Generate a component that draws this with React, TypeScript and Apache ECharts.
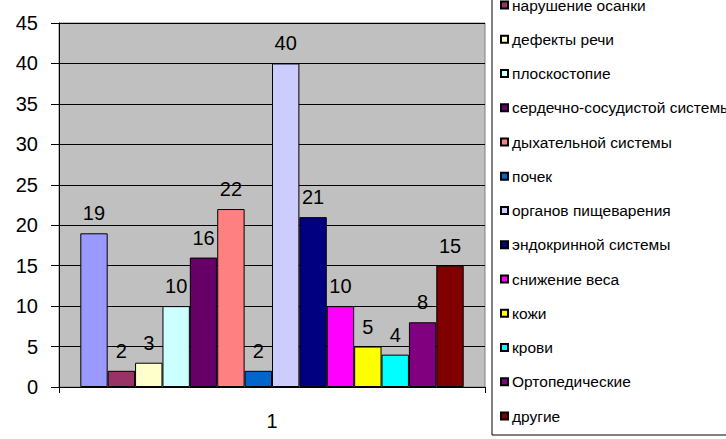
import React, { useEffect, useRef } from "react";
import * as echarts from "echarts";

const categories = ["1"];
const seriesNames = [
  "нарушение зрения",
  "нарушение осанки",
  "дефекты речи",
  "плоскостопие",
  "сердечно-сосудистой системы",
  "дыхательной системы",
  "почек",
  "органов пищеварения",
  "эндокринной системы",
  "снижение веса",
  "кожи",
  "крови",
  "Ортопедические",
  "другие",
];
const seriesValues = [19, 2, 3, 10, 16, 22, 2, 40, 21, 10, 5, 4, 8, 15];
const seriesColors = [
  "#9999FF", "#993366", "#FFFFCC", "#CCFFFF", "#660066", "#FF8080", "#0066CC",
  "#CCCCFF", "#000080", "#FF00FF", "#FFFF00", "#00FFFF", "#800080", "#800000",
];
const yTicks = { min: 0, max: 45, interval: 5 };

const FONT = "'Liberation Sans', Arial, sans-serif";

export default function App() {
  const ref = useRef<HTMLDivElement>(null);
  useEffect(() => {
    if (!ref.current) return;
    const chart = echarts.init(ref.current, undefined, { renderer: "svg" });
    chart.setOption({
      animation: false,
      textStyle: { fontFamily: FONT },
      grid: {
        left: 59,
        right: 241,
        top: 23,
        bottom: 52,
        show: true,
        backgroundColor: "#C0C0C0",
        borderColor: "#808080",
        borderWidth: 1,
      },
      legend: {
        orient: "vertical",
        left: 492,
        top: -45,
        padding: [7.75, 60, 11, 8],
        itemWidth: 7,
        itemHeight: 7,
        itemGap: 18.25,
        icon: "rect",
        backgroundColor: "#fff",
        borderColor: "#000",
        borderWidth: 1,
        textStyle: { fontSize: 15.5, lineHeight: 16, color: "#000", fontFamily: FONT, padding: [0, 0, 0, -1] },
        data: seriesNames,
      },
      xAxis: {
        type: "category",
        data: categories,
        axisLine: { show: true, lineStyle: { color: "#000", width: 1 } },
        axisTick: { show: true, length: 6, lineStyle: { color: "#000" } },
        axisLabel: { fontSize: 20, color: "#000", margin: 24, fontFamily: FONT },
        splitLine: { show: false },
      },
      yAxis: {
        type: "value",
        min: yTicks.min,
        max: yTicks.max,
        interval: yTicks.interval,
        axisLine: { show: true, lineStyle: { color: "#000", width: 1 } },
        axisTick: { show: true, length: 8, lineStyle: { color: "#000" } },
        axisLabel: { fontSize: 20, color: "#000", margin: 21, fontFamily: FONT },
        splitLine: { show: true, lineStyle: { color: "#000", width: 1 } },
      },
      series: seriesNames.map((name, i) => ({
        type: "bar",
        name,
        data: [seriesValues[i]],
        barGap: "0%",
        barCategoryGap: "10%",
        itemStyle: { color: seriesColors[i], borderColor: "#000", borderWidth: 1 },
        label: {
          show: true,
          position: "top",
          distance: 10,
          fontSize: 20,
          color: "#000",
          fontFamily: FONT,
        },
      })),
    });
    return () => chart.dispose();
  }, []);
  return (
    <div
      ref={ref}
      style={{ position: "absolute", left: 0, top: 0, width: 726, height: 439, background: "#fff" }}
    />
  );
}
